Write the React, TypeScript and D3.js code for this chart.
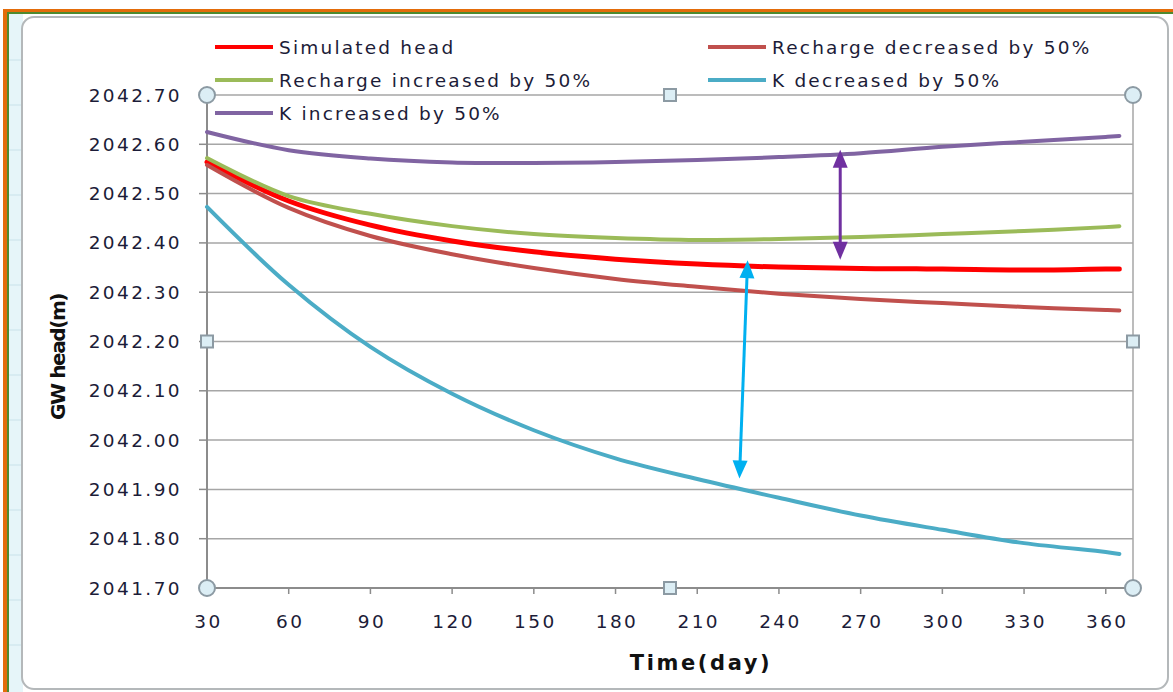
import React from "react";
import * as d3 from "d3";

const days = [30, 60, 90, 120, 150, 180, 210, 240, 270, 300, 330, 360, 365];
const simulatedHead = [2042.564, 2042.485, 2042.436, 2042.404, 2042.382, 2042.367, 2042.357, 2042.351, 2042.348, 2042.347, 2042.345, 2042.347, 2042.347];
const rechargeDecreased = [2042.558, 2042.471, 2042.414, 2042.377, 2042.349, 2042.327, 2042.311, 2042.297, 2042.286, 2042.278, 2042.270, 2042.264, 2042.263];
const rechargeIncreased = [2042.572, 2042.495, 2042.459, 2042.434, 2042.418, 2042.410, 2042.406, 2042.408, 2042.412, 2042.418, 2042.424, 2042.432, 2042.434];
const kDecreased = [2042.473, 2042.315, 2042.189, 2042.094, 2042.020, 2041.963, 2041.921, 2041.883, 2041.847, 2041.818, 2041.791, 2041.773, 2041.769];
const kIncreased = [2042.625, 2042.588, 2042.571, 2042.563, 2042.562, 2042.564, 2042.568, 2042.574, 2042.582, 2042.595, 2042.605, 2042.615, 2042.617];

const seriesNames = ["Simulated head", "Recharge decreased by 50%", "Recharge increased by 50%", "K decreased by 50%", "K increased by 50%"];
const seriesColors = ["#FF0000", "#C0504D", "#9BBB59", "#4BACC6", "#8064A2"];
const seriesValues = [simulatedHead, rechargeDecreased, rechargeIncreased, kDecreased, kIncreased];

const xTicks = [30, 60, 90, 120, 150, 180, 210, 240, 270, 300, 330, 360];
const yTicks = [2041.7, 2041.8, 2041.9, 2042.0, 2042.1, 2042.2, 2042.3, 2042.4, 2042.5, 2042.6, 2042.7];

// annotation arrows: [x1, y1, x2, y2] in data coordinates
const purpleArrow = [262.5, 2042.589, 262.5, 2042.366];
const cyanArrow = [228.5, 2042.365, 225.5, 2041.922];

const L = 207, R = 1133, T = 95, B = 588;
const x = d3.scaleLinear().domain([30, 370]).range([L, R]);
const y = d3.scaleLinear().domain([2041.7, 2042.7]).range([B, T]);

const textColor = "#1c1c38";
const font = "'DejaVu Sans', Verdana, sans-serif";

function Arrow({ a, color }: { a: number[]; color: string }) {
  const x1 = x(a[0]), y1 = y(a[1]), x2 = x(a[2]), y2 = y(a[3]);
  const ang = Math.atan2(y2 - y1, x2 - x1);
  const hl = 18, hw = 7.5;
  const head = (tx: number, ty: number, dir: number) => {
    const bx = tx - Math.cos(dir) * hl, by = ty - Math.sin(dir) * hl;
    const px = -Math.sin(dir) * hw, py = Math.cos(dir) * hw;
    return `M${tx},${ty}L${bx + px},${by + py}L${bx - px},${by - py}Z`;
  };
  const sx = x1 + Math.cos(ang) * hl * 0.8, sy = y1 + Math.sin(ang) * hl * 0.8;
  const ex = x2 - Math.cos(ang) * hl * 0.8, ey = y2 - Math.sin(ang) * hl * 0.8;
  return (
    <g>
      <line x1={sx} y1={sy} x2={ex} y2={ey} stroke={color} strokeWidth={3} />
      <path d={head(x1, y1, ang + Math.PI)} fill={color} />
      <path d={head(x2, y2, ang)} fill={color} />
    </g>
  );
}

export default function App() {
  const line = d3
    .line<number>()
    .x((_, i) => x(days[i]))
    .y((v) => y(v))
    .curve(d3.curveCatmullRom.alpha(0.5));

  const legendPos = [
    [215, 47], [708, 47], [215, 80], [708, 80], [215, 113],
  ];

  const handleFill = "#DCEEF5";
  const handleStroke = "#8C9AA3";

  return (
    <svg width={1173} height={692} style={{ position: "absolute", left: 0, top: 0, background: "#fff" }} fontFamily={font}>
      {/* sheet background */}
      <rect x={0} y={0} width={1173} height={692} fill="#ffffff" />
      <rect x={7} y={13} width={16} height={679} fill="#E6F5F9" />
      {[60, 105, 150, 195, 240, 285, 330, 375, 420, 465, 510, 555, 600, 645].map((gy) => (
        <line key={gy} x1={7} x2={22} y1={gy} y2={gy} stroke="#C9E2EA" strokeWidth={1} />
      ))}
      <rect x={3} y={9} width={1170} height={3} fill="#E36C0A" />
      <rect x={3} y={9} width={4} height={683} fill="#E36C0A" />
      <rect x={7} y={12} width={1166} height={2} fill="#4F8A2F" />
      <rect x={7} y={12} width={2} height={680} fill="#4F8A2F" />
      {/* chart area */}
      <rect x={22} y={17} width={1146} height={672} rx={12} fill="#ffffff" stroke="#B4B8BA" strokeWidth={2} />

      {/* gridlines */}
      {yTicks.map((t) => (
        <line key={t} x1={L} x2={R} y1={y(t)} y2={y(t)} stroke="#A6A6A6" strokeWidth={1.5} />
      ))}
      <line x1={R} x2={R} y1={T} y2={B} stroke="#A6A6A6" strokeWidth={1.5} />
      {/* axes */}
      <line x1={L} x2={L} y1={T} y2={B} stroke="#8C8C8C" strokeWidth={2} />
      <line x1={L} x2={R} y1={B} y2={B} stroke="#8C8C8C" strokeWidth={2} />
      {yTicks.map((t) => (
        <line key={"yt" + t} x1={L - 8} x2={L} y1={y(t)} y2={y(t)} stroke="#8C8C8C" strokeWidth={1.5} />
      ))}
      {xTicks.map((t) => (
        <line key={"xt" + t} x1={x(t)} x2={x(t)} y1={B} y2={B + 6} stroke="#8C8C8C" strokeWidth={1.5} />
      ))}

      {/* tick labels */}
      {yTicks.map((t) => (
        <text key={"yl" + t} x={182} y={y(t) + 6.5} textAnchor="end" fontSize={18.5} letterSpacing={2.4} fill={textColor}>
          {t.toFixed(2)}
        </text>
      ))}
      {xTicks.map((t) => (
        <text key={"xl" + t} x={x(t) + 1.5} y={628} textAnchor="middle" fontSize={18.5} letterSpacing={2.4} fill={textColor}>
          {t}
        </text>
      ))}

      {/* axis titles */}
      <text x={701} y={670} textAnchor="middle" fontSize={21} fontWeight="bold" letterSpacing={2.6} fill="#111">
        Time(day)
      </text>
      <text transform="translate(65,357) rotate(-90)" textAnchor="middle" fontSize={20} fontWeight="bold" letterSpacing={-1.4} fill="#111">
        GW head(m)
      </text>

      {/* series */}
      {seriesValues.map((vals, i) => (
        <path key={seriesNames[i]} d={line(vals) || ""} fill="none" stroke={seriesColors[i]} strokeWidth={i === 0 ? 5 : 4} strokeLinejoin="round" strokeLinecap="round" />
      ))}

      {/* annotation arrows */}
      <Arrow a={purpleArrow} color="#7030A0" />
      <Arrow a={cyanArrow} color="#00B0F0" />

      {/* selection handles */}
      {[[L, T], [R, T], [L, B], [R, B]].map(([hx, hy], i) => (
        <circle key={"c" + i} cx={hx} cy={hy} r={8} fill={handleFill} stroke={handleStroke} strokeWidth={2} />
      ))}
      {[[(L + R) / 2, T], [(L + R) / 2, B], [L, (T + B) / 2], [R, (T + B) / 2]].map(([hx, hy], i) => (
        <rect key={"s" + i} x={hx - 6} y={hy - 6} width={12} height={12} fill={handleFill} stroke={handleStroke} strokeWidth={2} />
      ))}

      {/* legend */}
      {seriesNames.map((n, i) => {
        const [lx, ly] = legendPos[i];
        return (
          <g key={"lg" + n}>
            <line x1={lx} x2={lx + 58} y1={ly} y2={ly} stroke={seriesColors[i]} strokeWidth={4} />
            <text x={lx + 64} y={ly + 6.5} fontSize={18.5} letterSpacing={2.2} fill={textColor}>
              {n}
            </text>
          </g>
        );
      })}
    </svg>
  );
}
